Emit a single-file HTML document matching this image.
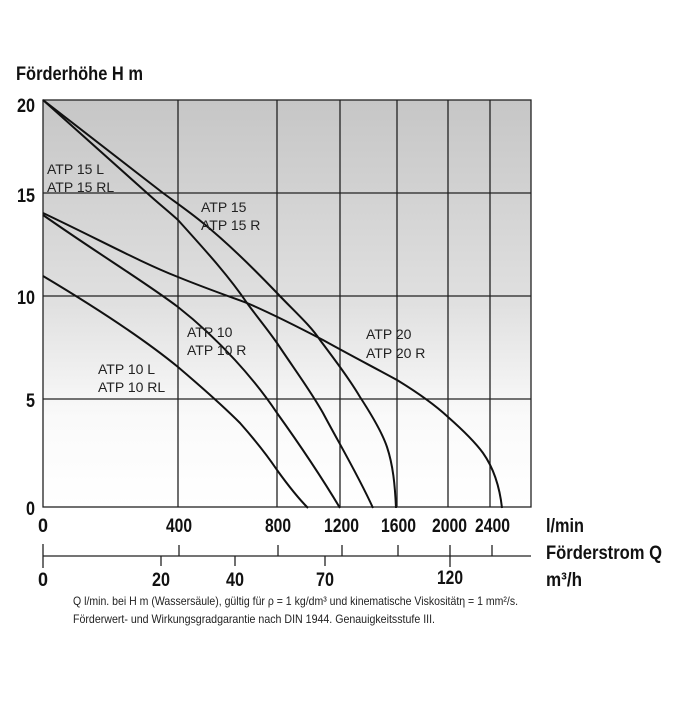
<!DOCTYPE html>
<html><head><meta charset="utf-8"><style>
body{margin:0;background:#fff;}
svg text{font-family:"Liberation Sans",sans-serif;}
</style></head><body>
<svg width="700" height="700" viewBox="0 0 700 700" xmlns="http://www.w3.org/2000/svg">
<defs><linearGradient id="g" x1="0" y1="0" x2="0" y2="1">
<stop offset="0" stop-color="#c6c6c6"/><stop offset="0.5" stop-color="#e0e0e0"/><stop offset="0.78" stop-color="#fafafa"/><stop offset="1" stop-color="#ffffff"/></linearGradient></defs>
<rect x="43" y="100" width="488" height="407" fill="url(#g)" stroke="#222" stroke-width="1.3"/>
<g stroke="#222" stroke-width="1.3">
<line x1="43" y1="193" x2="531" y2="193"/><line x1="43" y1="296" x2="531" y2="296"/><line x1="43" y1="399" x2="531" y2="399"/>
<line x1="178" y1="100" x2="178" y2="507"/><line x1="277" y1="100" x2="277" y2="507"/><line x1="340" y1="100" x2="340" y2="507"/>
<line x1="397" y1="100" x2="397" y2="507"/><line x1="448" y1="100" x2="448" y2="507"/><line x1="490" y1="100" x2="490" y2="507"/>
</g>
<g fill="none" stroke="#111" stroke-width="2">
<path d="M43,100 L163,193 C178,204 191,213 203,223 C230,245 255,270 277,293 C295,312 310,325 320,340 C335,360 350,380 360,397 C375,420 383,435 387,447 C393,465 395,485 396,508"/>
<path d="M43,100 L147,193 C158,203 168,211 178,220 C205,250 228,275 247,303 C258,318 268,330 277,343 C295,370 310,390 323,413 C340,445 358,475 373,508"/>
<path d="M43,213 C100,240 140,262 178,277 C205,288 228,296 247,303 C275,315 300,328 323,340 C350,355 375,368 397,380 C420,394 435,405 448,417 C465,432 475,442 483,453 C495,470 500,490 502,508"/>
<path d="M43,215 C100,255 145,282 178,307 C220,340 255,380 277,413 C300,445 322,478 340,508"/>
<path d="M43,276 C100,310 145,340 178,367 C205,390 225,408 240,423 C255,440 267,455 277,470 C290,488 300,500 308,508"/>
</g>
<g font-size="14" fill="#222">
<text x="47" y="174">ATP 15 L</text><text x="47" y="192">ATP 15 RL</text>
<text x="201" y="212">ATP 15</text><text x="201" y="230">ATP 15 R</text>
<text x="187" y="337">ATP 10</text><text x="187" y="355">ATP 10 R</text>
<text x="98" y="374">ATP 10 L</text><text x="98" y="392">ATP 10 RL</text>
<text x="366" y="339">ATP 20</text><text x="366" y="358">ATP 20 R</text>
</g>
<g font-size="19" font-weight="bold" fill="#111">
<text x="16" y="80" textLength="127" lengthAdjust="spacingAndGlyphs">Förderhöhe H m</text>
<text x="17" y="112" textLength="18" lengthAdjust="spacingAndGlyphs">20</text>
<text x="17" y="202" textLength="18" lengthAdjust="spacingAndGlyphs">15</text>
<text x="17" y="304" textLength="18" lengthAdjust="spacingAndGlyphs">10</text>
<text x="26" y="407" textLength="9" lengthAdjust="spacingAndGlyphs">5</text>
<text x="26" y="515" textLength="9" lengthAdjust="spacingAndGlyphs">0</text>
<text x="38" y="532" textLength="10" lengthAdjust="spacingAndGlyphs">0</text>
<text x="166" y="532" textLength="26" lengthAdjust="spacingAndGlyphs">400</text>
<text x="265" y="532" textLength="26" lengthAdjust="spacingAndGlyphs">800</text>
<text x="324" y="532" textLength="35" lengthAdjust="spacingAndGlyphs">1200</text>
<text x="381" y="532" textLength="35" lengthAdjust="spacingAndGlyphs">1600</text>
<text x="432" y="532" textLength="35" lengthAdjust="spacingAndGlyphs">2000</text>
<text x="475" y="532" textLength="35" lengthAdjust="spacingAndGlyphs">2400</text>
<text x="38" y="586" textLength="10" lengthAdjust="spacingAndGlyphs">0</text>
<text x="152" y="586" textLength="18" lengthAdjust="spacingAndGlyphs">20</text>
<text x="226" y="586" textLength="18" lengthAdjust="spacingAndGlyphs">40</text>
<text x="316" y="586" textLength="18" lengthAdjust="spacingAndGlyphs">70</text>
<text x="437" y="584" textLength="26" lengthAdjust="spacingAndGlyphs">120</text>
<text x="546" y="532" textLength="38" lengthAdjust="spacingAndGlyphs">l/min</text>
<text x="546" y="559" textLength="116" lengthAdjust="spacingAndGlyphs">Förderstrom Q</text>
<text x="546" y="586" textLength="36" lengthAdjust="spacingAndGlyphs">m³/h</text>
</g>
<g stroke="#222" stroke-width="1.3">
<line x1="43" y1="556" x2="531" y2="556"/>
<line x1="43" y1="544" x2="43" y2="568"/>
<line x1="179" y1="545" x2="179" y2="556"/><line x1="278" y1="545" x2="278" y2="556"/><line x1="342" y1="545" x2="342" y2="556"/><line x1="398" y1="545" x2="398" y2="556"/><line x1="492" y1="545" x2="492" y2="556"/>
<line x1="161" y1="556" x2="161" y2="566"/><line x1="235" y1="556" x2="235" y2="566"/><line x1="325" y1="556" x2="325" y2="566"/><line x1="450" y1="545" x2="450" y2="567"/>
</g>
<g font-size="12" fill="#222">
<text x="73" y="605" textLength="445" lengthAdjust="spacingAndGlyphs">Q l/min. bei H m (Wassersäule), gültig für ρ = 1 kg/dm³ und kinematische Viskositätη = 1 mm²/s.</text>
<text x="73" y="623" textLength="362" lengthAdjust="spacingAndGlyphs">Förderwert- und Wirkungsgradgarantie nach DIN 1944. Genauigkeitsstufe III.</text>
</g>
</svg>
</body></html>
